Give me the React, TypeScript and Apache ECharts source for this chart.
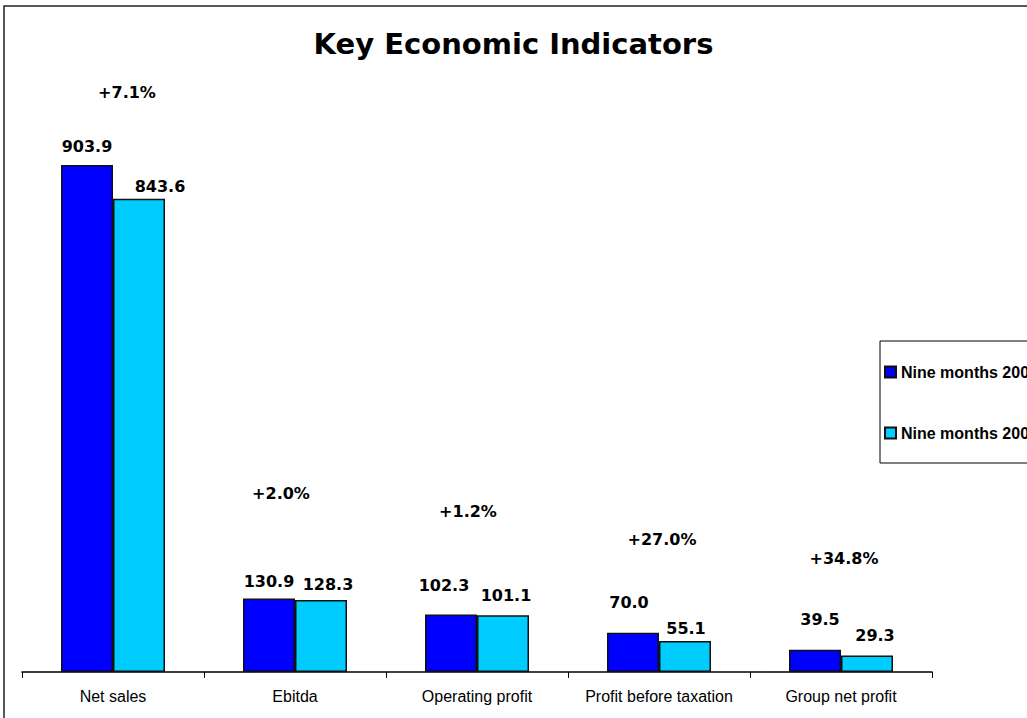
import React, { useEffect, useRef } from "react";
import * as echarts from "echarts";

const categories = ["Net sales", "Ebitda", "Operating profit", "Profit before taxation", "Group net profit"];
const seriesNames = ["Nine months 2007", "Nine months 2006"];
const nine2007 = [903.9, 130.9, 102.3, 70.0, 39.5];
const nine2006 = [843.6, 128.3, 101.1, 55.1, 29.3];
// height (in value units) at which each year-on-year change label sits
const changeLabelLevel = [1034, 319, 287, 237, 203];

// label nudges (pixels) to mimic the original's label placement
const nudge2007 = [[0, -10], [0, -9], [-7, -21], [-4, -22], [5, -22]];
const nudge2006 = [[21, -4], [7, -8], [3, -12], [1, -5], [8, -12]];
const nudgeChange = [14, -14, -9, 3, 3];

const VERDANA = "'DejaVu Sans', Verdana, sans-serif";
const ARIAL = "'Liberation Sans', Arial, sans-serif";

export default function App() {
  const ref = useRef<HTMLDivElement>(null);
  useEffect(() => {
    if (!ref.current) return;
    const chart = echarts.init(ref.current, null, { renderer: "svg" });
    const labelStyle = {
      show: true,
      position: "top",
      distance: 0,
      fontFamily: VERDANA,
      fontWeight: "bold",
      fontSize: 16,
      color: "#000",
      formatter: (p: any) => Number(p.value).toFixed(1),
    };
    const barStyle = (color: string) => ({ color, borderColor: "#111", borderWidth: 1.5 });
    const changes = nine2007.map((v, i) => {
      const pct = (v / nine2006[i] - 1) * 100;
      return (pct >= 0 ? "+" : "") + pct.toFixed(1) + "%";
    });
    chart.setOption({
      animation: false,
      backgroundColor: "#fff",
      title: {
        text: "Key Economic Indicators",
        left: "center",
        top: 29,
        padding: 0,
        textStyle: { fontFamily: VERDANA, fontWeight: "bold", fontSize: 29, color: "#000" },
      },
      graphic: [
        {
          type: "rect",
          shape: { x: 4, y: 6, width: 1300, height: 1000 },
          style: { fill: "none", stroke: "#222", lineWidth: 1.5 },
          silent: true,
        },
      ],
      legend: {
        data: seriesNames,
        orient: "vertical",
        left: 880,
        top: 341,
        padding: [23, 200, 22, 4],
        itemGap: 45,
        itemWidth: 11,
        itemHeight: 11,
        icon: "rect",
        borderColor: "#000",
        borderWidth: 1,
        textStyle: { fontFamily: ARIAL, fontWeight: "bold", fontSize: 16, color: "#000", lineHeight: 16 },
      },
      grid: { left: 22, right: 95, top: 55, bottom: 46 },
      xAxis: {
        type: "category",
        data: categories,
        axisLine: { lineStyle: { color: "#000", width: 1.5 } },
        axisTick: { show: true, length: 6, lineStyle: { color: "#000", width: 1 } },
        axisLabel: { interval: 0, fontFamily: ARIAL, fontSize: 16, color: "#000", margin: 16 },
      },
      yAxis: {
        type: "value",
        min: 0,
        max: 1100,
        show: false,
        splitLine: { show: false },
      },
      series: [
        {
          name: seriesNames[0],
          type: "bar",
          barWidth: 52,
          barGap: "0%",
          itemStyle: barStyle("#0000FF"),
          data: nine2007.map((v, i) => ({ value: v, label: { ...labelStyle, offset: nudge2007[i] } })),
        },
        {
          name: seriesNames[1],
          type: "bar",
          barWidth: 52,
          barGap: "0%",
          itemStyle: barStyle("#00CCFF"),
          data: nine2006.map((v, i) => ({ value: v, label: { ...labelStyle, offset: nudge2006[i] } })),
        },
        {
          name: "change",
          type: "scatter",
          symbolSize: 0,
          silent: true,
          itemStyle: { opacity: 1 },
          data: changeLabelLevel.map((v, i) => ({
            value: [i, v],
            label: {
              show: true,
              position: "inside",
              offset: [nudgeChange[i], 0],
              fontFamily: VERDANA,
              fontWeight: "bold",
              fontSize: 16,
              color: "#000",
              opacity: 1,
              formatter: () => changes[i],
            },
          })),
        },
      ],
    });
    return () => chart.dispose();
  }, []);
  return (
    <div
      ref={ref}
      style={{ position: "absolute", left: 0, top: 0, width: 1027, height: 718, overflow: "hidden" }}
    />
  );
}
